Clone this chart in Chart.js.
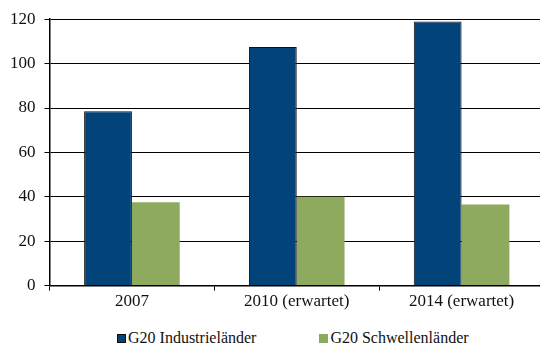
<!DOCTYPE html>
<html>
<head>
<meta charset="utf-8">
<script src="https://cdn.jsdelivr.net/npm/chart.js@4/dist/chart.umd.min.js"></script>
<style>
    html, body { margin: 0; padding: 0; background: #fff; overflow: hidden; width: 540px; height: 347px; }
    #wrap { position: relative; width: 544px; height: 313px; }
    #legend {
        position: absolute; left: 117px; top: 329px;
        display: flex; gap: 63px;
        font: 16px 'Liberation Serif', 'Times New Roman', serif; color: #111;
    }
    #legend .item { display: flex; align-items: center; white-space: nowrap; }
    #legend .box { width: 9px; height: 9px; box-sizing: border-box; margin-right: 2px; }
</style>
</head>
<body>
<div id="wrap"><canvas id="chart"></canvas></div>
<div id="legend"></div>
<script>
const categories = ["2007", "2010 (erwartet)", "2014 (erwartet)"];
const industrielaender = [78.5, 107.5, 119];
const schwellenlaender = [37.5, 40, 36.5];
const yTicks = [0, 20, 40, 60, 80, 100, 120];

const serif = "'Liberation Serif', 'Times New Roman', serif";

const chart = new Chart(document.getElementById("chart"), {
    type: "bar",
    data: {
        labels: categories,
        datasets: [
            {
                label: "G20 Industrieländer",
                data: industrielaender,
                backgroundColor: "#02437a",
                borderColor: "#101010",
                borderWidth: 1,
                categoryPercentage: 0.58,
                barPercentage: 1
            },
            {
                label: "G20 Schwellenländer",
                data: schwellenlaender,
                backgroundColor: "#8eaa5e",
                borderWidth: 0,
                categoryPercentage: 0.58,
                barPercentage: 1
            }
        ]
    },
    options: {
        responsive: true,
        maintainAspectRatio: false,
        animation: false,
        layout: { padding: { left: 1, right: 0, top: 6, bottom: 0 } },
        plugins: {
            tooltip: { enabled: false },
            legend: { display: false }
        },
        scales: {
            x: {
                grid: { drawOnChartArea: false, drawTicks: true, tickLength: 5, color: "#000", offset: true },
                border: { color: "#000", width: 1.5 },
                ticks: { font: { family: serif, size: 17 }, color: "#111", padding: 1 }
            },
            y: {
                min: 0,
                max: 120,
                afterBuildTicks: (axis) => { axis.ticks = yTicks.map(v => ({ value: v })); },
                grid: { color: "#000", lineWidth: 1, tickLength: 5 },
                border: { color: "#000", width: 1.5 },
                ticks: { font: { family: serif, size: 17 }, color: "#111", padding: 9 }
            }
        }
    }
});

// legend drawn as html, built from the datasets
const legendEl = document.getElementById("legend");
chart.data.datasets.forEach(ds => {
    const item = document.createElement("span");
    item.className = "item";
    const box = document.createElement("span");
    box.className = "box";
    box.style.background = ds.backgroundColor;
    if (ds.borderWidth) box.style.border = ds.borderWidth + "px solid " + ds.borderColor;
    item.appendChild(box);
    item.appendChild(document.createTextNode(ds.label));
    legendEl.appendChild(item);
});
</script>
</body>
</html>
